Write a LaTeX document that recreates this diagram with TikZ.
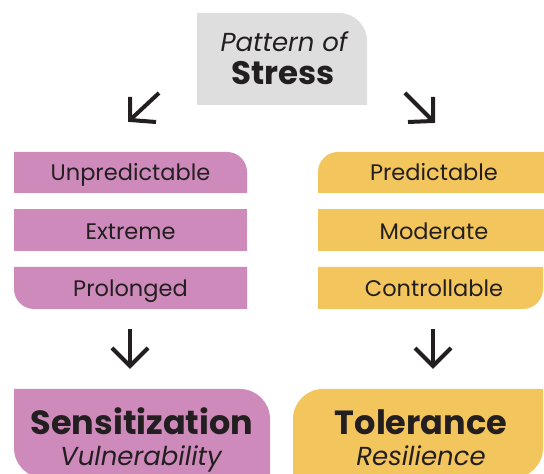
\documentclass[tikz,border=0pt]{standalone}
\usepackage{fontspec}
\setmainfont{Poppins}
\usetikzlibrary{calc}
\definecolor{graybox}{HTML}{DEDEDE}
\definecolor{pinkbox}{HTML}{CF8ABC}
\definecolor{yellowbox}{HTML}{F3C55D}
\definecolor{ink}{HTML}{231F20}
\tikzset{
  rowtext/.style={anchor=base, text=ink, font=\fontsize{22.5}{26}\selectfont, inner sep=0pt},
  bigtext/.style={anchor=base, text=ink, font=\fontsize{33.5}{38}\selectfont\bfseries, inner sep=0pt},
  subtext/.style={anchor=base, text=ink, font=\fontsize{26}{30}\selectfont\itshape, inner sep=0pt},
  arrowline/.style={draw=ink, line width=4pt, line join=miter},
}
\begin{document}
\begin{tikzpicture}[x=1pt,y=1pt]
\useasboundingbox (0,0) rectangle (544,474);
\clip (0,0) rectangle (544,474);
% top box
\fill[graybox] (197,369) -- (197,461) -- (339,461) arc[start angle=90,end angle=0,radius=28] -- (367,369) -- cycle;
\node[subtext] (pattern) at (284,422) {Pattern of};
\node[bigtext, font=\fontsize{32.5}{36}\selectfont\bfseries] (stress) at (283,389) {Stress};
% left column
\fill[pinkbox] (14,281) -- (14,322) -- (227,322) arc[start angle=90,end angle=0,radius=20] -- (247,281) -- cycle;
\fill[pinkbox] (14,223) rectangle (247,265);
\fill[pinkbox] (14,185) -- (14,207) -- (247,207) -- (247,165) -- (34,165) arc[start angle=270,end angle=180,radius=20] -- cycle;
\node[rowtext] (unpred) at (130.5,293) {Unpredictable};
\node[rowtext] (extreme) at (130.5,234) {Extreme};
\node[rowtext] (prolonged) at (130.5,177) {Prolonged};
% right column
\fill[yellowbox] (318,281) -- (318,302) arc[start angle=180,end angle=90,radius=20] -- (544,322) -- (544,281) -- cycle;
\fill[yellowbox] (318,223) rectangle (544,265);
\fill[yellowbox] (318,165) -- (318,207) -- (543,207) -- (543,185) arc[start angle=0,end angle=-90,radius=20] -- cycle;
\node[rowtext] (pred) at (434,293) {Predictable};
\node[rowtext] (moderate) at (434,234) {Moderate};
\node[rowtext] (control) at (434,177) {Controllable};
% bottom boxes
\fill[pinkbox] (44,-4) arc[start angle=270,end angle=180,radius=30] -- (14,85) -- (240,85) arc[start angle=90,end angle=0,radius=30] -- (270,-4) -- cycle;
\fill[yellowbox] (293,-4) -- (293,55) arc[start angle=180,end angle=90,radius=30] -- (543,85) -- (543,26) arc[start angle=0,end angle=-90,radius=30] -- cycle;
\node[bigtext] (sens) at (142,39) {Sensitization};
\node[subtext] (vuln) at (141,8) {Vulnerability};
\node[bigtext] (tol) at (421,39) {Tolerance};
\node[subtext] (resil) at (421,8) {Resilience};
% arrows
\coordinate (la1) at (159,381); \coordinate (la2) at (130,354);
\coordinate (ra1) at (405,381); \coordinate (ra2) at (433,353);
\coordinate (ld1) at (130,145); \coordinate (ld2) at (130,108);
\coordinate (rd1) at (433,145); \coordinate (rd2) at (433,108);
\draw[arrowline] (la1) -- (la2);
\draw[arrowline] ($(la2)+(0,23)$) -- (la2) -- ($(la2)+(26,-2)$);
\draw[arrowline] (ra1) -- (ra2);
\draw[arrowline] ($(ra2)+(0,24)$) -- (ra2) -- ($(ra2)+(-25,-1)$);
\draw[arrowline] (ld1) -- (ld2);
\draw[arrowline] ($(ld2)+(-18,18)$) -- (ld2) -- ($(ld2)+(18,18)$);
\draw[arrowline] (rd1) -- (rd2);
\draw[arrowline] ($(rd2)+(-18,18)$) -- (rd2) -- ($(rd2)+(18,18)$);
\end{tikzpicture}
\end{document}
